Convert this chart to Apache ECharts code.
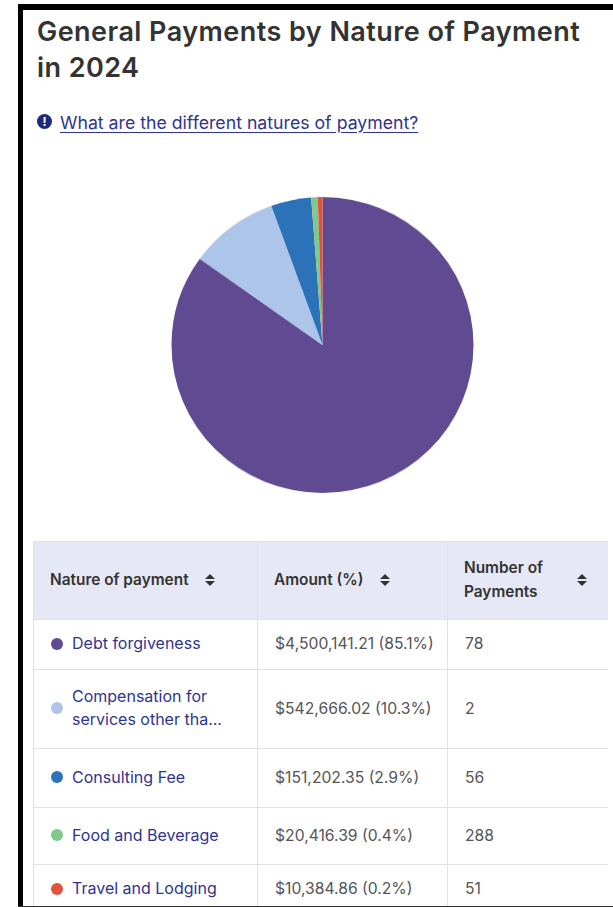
<!DOCTYPE html>
<html>
<head>
<meta charset="utf-8">
<title>General Payments by Nature of Payment</title>
<script src="https://cdn.jsdelivr.net/npm/echarts@6/dist/echarts.min.js"></script>
<style>
  html, body { margin: 0; padding: 0; background: #fff; }
  body { width: 613px; height: 907px; position: relative; overflow: hidden; font-family: Inter, "Noto Sans", sans-serif; }
  .frame_top { position: absolute; left: 18px; right: 0; top: 4px; height: 6px; background: #000; border-top-left-radius: 3px; }
  .frame_left { position: absolute; left: 18px; top: 4px; bottom: 0; width: 5px; background: #000; }
  .frame_bottom { position: absolute; left: 18px; right: 0; bottom: 0; height: 1px; background: #333; z-index: 2; }
  h1 { position: absolute; left: 37px; top: 14px; width: 550px; margin: 0; font-size: 27px; letter-spacing: 0.45px; line-height: 36px; font-weight: 600; color: #333; }
  .info { position: absolute; left: 37px; top: 114px; width: 15px; height: 15px; border-radius: 50%; background: #1e2a78; color: #fff; font-size: 12px; font-weight: 700; line-height: 15px; text-align: center; }
  .link { position: absolute; left: 60px; top: 112px; font-size: 17.7px; line-height: 21px; color: #2f3490; text-decoration: underline; text-underline-offset: 3px; white-space: nowrap; }
  /* the reference pie is a little squashed vertically */
  #chart { position: absolute; left: 23px; top: 170px; width: 590px; height: 350px; transform: scaleY(0.98); }
  .table_wrap { position: absolute; left: 33px; top: 541px; width: 575px; height: 366px; overflow: hidden; }
  table { border-collapse: collapse; table-layout: fixed; width: 575px; font-size: 15.7px; color: #555; }
  th, td { border: 1px solid #e2e2e6; box-sizing: border-box; padding: 0 0 2px 16px; text-align: left; }
  th { background: #e6e8f5; color: #333; font-size: 15.4px; line-height: 24px; font-weight: 600; height: 78px; }
  td { line-height: 23px; }
  td.name { color: #2f3490; padding-left: 17px; font-size: 16px; }
  td.amount { padding-left: 17px; white-space: nowrap; }
  td.count { padding-left: 17px; }
  .head_cell { display: flex; align-items: center; padding-right: 20px; }
  .caret { display: inline-block; width: 11px; height: 12px; position: relative; margin-left: 16px; flex: none; }
  th:last-child .caret { margin-left: auto; }
  .caret:before, .caret:after { content: ""; position: absolute; left: 0; border-left: 5.5px solid transparent; border-right: 5.5px solid transparent; }
  .caret:before { top: 0; border-bottom: 5px solid #333; }
  .caret:after { bottom: 0; border-top: 5px solid #333; }
  .name_cell { display: flex; align-items: center; }
  .dot { width: 12px; height: 12px; border-radius: 50%; margin-right: 9px; flex: none; }
</style>
</head>
<body>
<div class="frame_top"></div>
<div class="frame_left"></div>
<div class="frame_bottom"></div>
<h1>General Payments by Nature of Payment in 2024</h1>
<div class="info">!</div>
<div class="link">What are the different natures of payment?</div>
<div id="chart"></div>
<div class="table_wrap"><table id="payments"></table></div>

<script>
var categories = ['Debt forgiveness', 'Compensation for services other tha...', 'Consulting Fee', 'Food and Beverage', 'Travel and Lodging']
// slice sizes as measured off the pie (they do not quite follow the table's %)
var pieShare = [84.9, 9.6, 4.3, 0.7, 0.5]
var amounts = ['$4,500,141.21 (85.1%)', '$542,666.02 (10.3%)', '$151,202.35 (2.9%)', '$20,416.39 (0.4%)', '$10,384.86 (0.2%)']
var paymentCounts = ['78', '2', '56', '288', '51']
var colors = ['#604a92', '#adc5e8', '#2b72b9', '#7fc98a', '#e0533f']
var headers = ['Nature of payment', 'Amount (%)', 'Number of<br>Payments']
var colWidths = [224, 190, 161]
var rowHeights = [50, 79, 59, 57, 50]

var html = '<colgroup>'
colWidths.forEach(function (w) { html += '<col style="width:' + w + 'px">' })
html += '</colgroup><tr>'
headers.forEach(function (h) {
  html += '<th><div class="head_cell"><span>' + h + '</span><i class="caret"></i></div></th>'
})
html += '</tr>'
categories.forEach(function (name, i) {
  html += '<tr style="height:' + rowHeights[i] + 'px">'
  html += '<td class="name"><div class="name_cell"><span class="dot" style="background:' + colors[i] + '"></span><span>' + name + '</span></div></td>'
  html += '<td class="amount">' + amounts[i] + '</td>'
  html += '<td class="count">' + paymentCounts[i] + '</td></tr>'
})
document.getElementById('payments').innerHTML = html

var myChart = echarts.init(document.getElementById('chart'))
myChart.setOption({
  animation: false,
  color: colors,
  series: [
    {
      type: 'pie',
      center: [299.5, 175],
      radius: [0, 151],
      startAngle: 90,
      clockwise: true,
      label: { show: false },
      labelLine: { show: false },
      data: categories.map(function (name, i) {
        return { name: name, value: pieShare[i] }
      })
    }
  ]
})
</script>
</body>
</html>
